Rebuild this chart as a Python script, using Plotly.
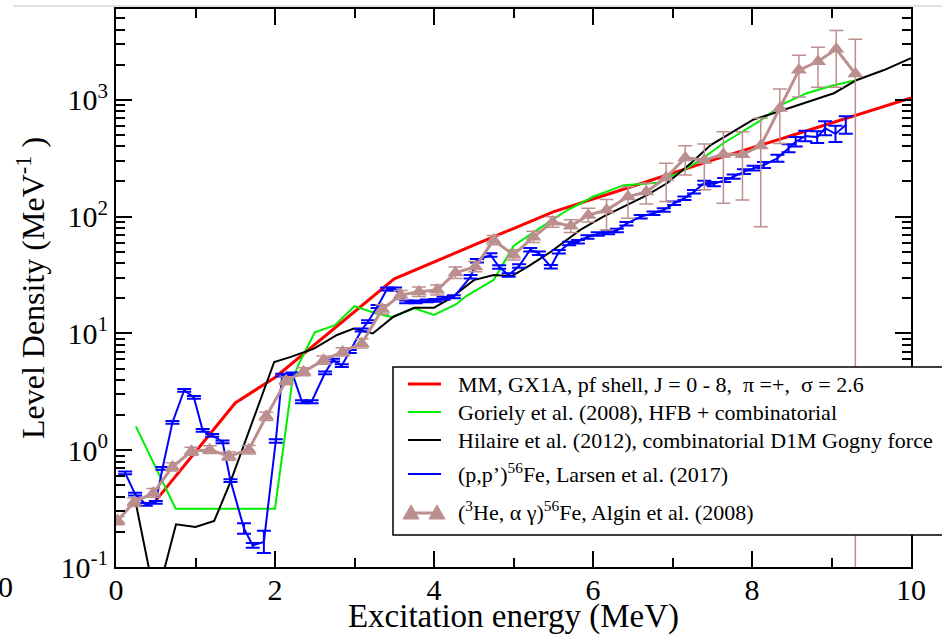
import plotly.graph_objects as go

# ---------------- data ----------------
mm_x = [0.5, 1.5, 2.0, 3.5, 4.5, 5.5, 6.5, 7.5, 8.5, 10.0]
mm_y = [0.37, 2.54, 4.2, 29.3, 57, 110, 182, 305, 495, 1040]

gor_x = [0.25, 0.75, 2.0, 2.22, 2.3, 2.5, 2.75, 3.0, 3.25, 3.47, 3.75, 4.0, 4.28, 4.4, 4.75,
         5.0, 5.32, 5.68, 6.0, 6.39, 6.81, 7.06, 7.35, 7.64, 7.83, 8.1, 8.4, 8.69, 8.99, 9.32]
gor_y = [1.6, 0.316, 0.316, 4.0, 5.5, 10.2, 11.7, 17.1, 15.0, 13.8, 16.4, 14.4, 17.8, 20.8, 28.7,
         56, 79, 114, 148, 186, 195, 234, 305, 425, 510, 660, 930, 1140, 1315, 1480]

hil_x = [0.25, 0.5, 0.755, 1.0, 1.235, 1.44, 1.99, 2.2, 2.49, 2.78, 2.99, 3.23, 3.49, 3.75, 4.0,
         4.21, 4.5, 4.75, 4.98, 5.19, 5.47, 5.84, 6.13, 6.39, 6.68, 6.93, 7.23, 7.48, 7.73, 8.02,
         8.27, 8.7, 9.03, 9.32, 9.66, 10.0]
hil_y = [0.35, 0.05, 0.232, 0.22, 0.248, 0.535, 5.7, 6.3, 7.4, 9.7, 11.0, 10.0, 13.9, 16.6, 16.6,
         20.0, 28.6, 31.6, 31.0, 37.7, 50, 77, 100, 122, 153, 193, 286, 410, 517, 680,
         767, 966, 1140, 1480, 1800, 2270]

lar_x = [0.115, 0.24, 0.375, 0.50, 0.585, 0.71, 0.858, 0.98, 1.09, 1.21, 1.34, 1.44, 1.61, 1.72,
         1.86, 2.01, 2.09, 2.22, 2.34, 2.46, 2.63, 2.73, 2.84, 2.94, 3.09, 3.17, 3.29, 3.41, 3.51,
         3.65, 3.77, 3.91, 4.02, 4.12, 4.25, 4.46, 4.54, 4.71, 4.82, 4.94, 5.07, 5.21, 5.32, 5.47,
         5.57, 5.70, 5.81, 5.93, 6.06, 6.19, 6.30, 6.42, 6.60, 6.76, 6.89, 7.02, 7.15, 7.27, 7.40,
         7.52, 7.65, 7.77, 7.90, 8.02, 8.15, 8.32, 8.46, 8.55, 8.67, 8.82, 8.92, 9.05, 9.18]
lar_y = [0.64, 0.42, 0.344, 0.358, 0.70, 1.73, 3.26, 2.83, 1.48, 1.34, 1.18, 0.55, 0.214, 0.153,
         0.164, 1.2, 4.4, 4.5, 2.6, 2.6, 4.6, 5.9, 5.3, 7.0, 10.7, 12.6, 17.0, 24.0, 24.0,
         18.6, 18.6, 19.0, 19.2, 20.0, 20.6, 30.5, 42, 47, 37, 31.6, 37.7, 52, 48.5, 37.3,
         50, 59, 61, 67, 71, 73, 76, 87, 100, 107, 114, 130, 144, 163, 195,
         190, 206, 220, 243, 260, 277, 316, 385, 438, 490, 480, 572, 511, 610]
lar_err_dex = [0.012, 0.012, 0.012, 0.012, 0.012, 0.012, 0.012, 0.012, 0.012, 0.012, 0.012, 0.012,
               0.045, 0.02, 0.095, 0.015, 0.012, 0.012, 0.012, 0.012, 0.012, 0.012, 0.012, 0.012,
               0.012, 0.012, 0.012, 0.012, 0.012, 0.012, 0.012, 0.012, 0.012, 0.012, 0.012, 0.015,
               0.015, 0.015, 0.015, 0.015, 0.015, 0.015, 0.015, 0.015, 0.015, 0.015, 0.015, 0.015,
               0.015, 0.015, 0.015, 0.015, 0.015, 0.015, 0.015, 0.015, 0.015, 0.015, 0.018, 0.018,
               0.018, 0.018, 0.02, 0.02, 0.025, 0.03, 0.035, 0.04, 0.045, 0.05, 0.06, 0.07, 0.075]

alg_x = [0.02, 0.23, 0.47, 0.71, 0.95, 1.18, 1.42, 1.67, 1.89, 2.14, 2.36, 2.61, 2.85, 3.09,
         3.35, 3.58, 3.81, 4.04, 4.27, 4.52, 4.75, 5.0, 5.25, 5.49, 5.72, 5.94, 6.17, 6.44,
         6.67, 6.92, 7.16, 7.40, 7.64, 7.88, 8.11, 8.35, 8.59, 8.83, 9.06, 9.30]
alg_y = [0.25, 0.36, 0.43, 0.72, 0.98, 1.01, 0.89, 1.01, 1.95, 3.93, 4.69, 5.9, 6.95, 8.2,
         16.1, 21.3, 22.7, 23.5, 33, 37.3, 63, 47, 67, 90, 83, 103, 114, 148,
         163, 216, 320, 304, 343, 340, 405, 847, 1800, 2130, 2720, 1670]
alg_err_plus = [0.02, 0.03, 0.04, 0.06, 0.08, 0.08, 0.08, 0.09, 0.16, 0.3, 0.4, 0.5, 0.6, 0.8,
                1.5, 2.0, 2.3, 2.5, 4, 4, 6, 5, 8, 10, 11, 15, 26, 32,
                30, 70, 85, 115, 190, 193, 290, 393, 615, 690, 1200, 1640]
alg_err_minus = [0.02, 0.03, 0.035, 0.055, 0.075, 0.075, 0.07, 0.08, 0.15, 0.3, 0.35, 0.45, 0.55, 0.7,
                 1.4, 1.8, 2.0, 2.2, 3.5, 3.5, 5.5, 4.5, 7, 9, 10, 13, 37, 51,
                 35, 81, 93, 134, 213, 201, 323, 423, 740, 850, 1440, 1669.97]

y_tickvals = [0.1, 1, 10, 100, 1000]
y_ticktext = ["10<sup>-1</sup>", "10<sup>0</sup>", "10<sup>1</sup>", "10<sup>2</sup>", "10<sup>3</sup>"]

names = [
    "MM, GX1A, pf shell, J = 0 - 8, \u00a0\u03c0 =+, \u00a0\u03c3 = 2.6",
    "Goriely et al. (2008), HFB + combinatorial",
    "Hilaire et al. (2012), combinatorial D1M Gogny force",
    "(p,p\u2019)<sup>56</sup>Fe, Larsen et al. (2017)",
    "(<sup>3</sup>He, \u03b1 \u03b3)<sup>56</sup>Fe, Algin et al. (2008)",
]

# ---------------- styling / layout helpers ----------------
FONT = "Liberation Serif, Times New Roman, serif"
BROWN = "rgb(188,143,143)"
COLORS = ["#ff0000", "#00ee00", "#000000", "#0000ff", BROWN]
WIDTHS = [3, 2, 2, 2, 3]

L, R, T, B = 116, 911, 9, 567          # plot-area edges in pixels
def px(x):
    return (x - L) / (R - L)
def py(y):
    return (B - y) / (B - T)

lar_plus = [y * (10 ** d - 1) for y, d in zip(lar_y, lar_err_dex)]
lar_minus = [y * (1 - 10 ** (-d)) for y, d in zip(lar_y, lar_err_dex)]

fig = go.Figure()
fig.add_trace(go.Scatter(x=mm_x, y=mm_y, mode="lines", name=names[0],
                         line=dict(color=COLORS[0], width=WIDTHS[0])))
fig.add_trace(go.Scatter(x=gor_x, y=gor_y, mode="lines", name=names[1],
                         line=dict(color=COLORS[1], width=WIDTHS[1])))
fig.add_trace(go.Scatter(x=hil_x, y=hil_y, mode="lines", name=names[2],
                         line=dict(color=COLORS[2], width=WIDTHS[2])))
fig.add_trace(go.Scatter(x=lar_x, y=lar_y, mode="lines", name=names[3],
                         line=dict(color=COLORS[3], width=WIDTHS[3]),
                         error_y=dict(type="data", array=lar_plus, arrayminus=lar_minus,
                                      color=COLORS[3], thickness=2, width=7)))
fig.add_trace(go.Scatter(x=alg_x, y=alg_y, mode="lines+markers", name=names[4],
                         line=dict(color=BROWN, width=WIDTHS[4]),
                         marker=dict(symbol="triangle-up", size=14, color=BROWN),
                         error_y=dict(type="data", array=alg_err_plus, arrayminus=alg_err_minus,
                                      color=BROWN, thickness=1.5, width=7)))

axis_common = dict(showgrid=False, zeroline=False, showline=True, linecolor="black",
                   linewidth=2, mirror="ticks", ticks="inside", tickcolor="black",
                   tickwidth=2, ticklen=16,
                   tickfont=dict(family=FONT, size=30, color="black"))

minor_y = [m * 10 ** e for e in range(-1, 4) for m in range(2, 10)]

fig.update_layout(
    width=942, height=635,
    margin=dict(l=L, r=942 - R, t=T, b=635 - B, autoexpand=False),
    paper_bgcolor="white", plot_bgcolor="white",
    font=dict(family=FONT, color="black"),
    showlegend=False,
    xaxis=dict(range=[0, 10], tick0=0, dtick=2, ticklabelstandoff=-5,
               minor=dict(dtick=1, ticks="inside", ticklen=9, tickwidth=2, tickcolor="black"),
               title=dict(text="Excitation energy (MeV)", font=dict(family=FONT, size=33), standoff=5),
               **axis_common),
    yaxis=dict(type="log", range=[-1, 3.778], tickvals=y_tickvals, ticktext=y_ticktext,
               minor=dict(tickvals=minor_y, ticks="inside", ticklen=9, tickwidth=2, tickcolor="black"),
               title=dict(text="Level Density (MeV<sup>-1</sup> )", font=dict(family=FONT, size=32), standoff=6),
               **axis_common),
)

# ---------------- hand-drawn legend box (extends past the right edge as in the original) ----------------
shapes = [dict(type="rect", xref="paper", yref="paper", layer="above",
               x0=px(393), x1=px(990), y0=py(367), y1=py(535),
               line=dict(color="black", width=1.5), fillcolor="white")]
row_y = [384, 412, 440, 474, 513]
text_y = [384, 412, 440, 473, 511]
for i in range(4):
    shapes.append(dict(type="line", xref="paper", yref="paper", layer="above",
                       x0=px(408), x1=px(441), y0=py(row_y[i]), y1=py(row_y[i]),
                       line=dict(color=COLORS[i], width=WIDTHS[i])))
shapes.append(dict(type="line", xref="paper", yref="paper", layer="above",
                   x0=px(411), x1=px(437), y0=py(row_y[4]), y1=py(row_y[4]),
                   line=dict(color=BROWN, width=3)))
for cx in (411, 437):
    cy = row_y[4]
    shapes.append(dict(type="path", xref="paper", yref="paper", layer="above",
                       path=f"M {px(cx-8)},{py(cy+6)} L {px(cx+8)},{py(cy+6)} L {px(cx)},{py(cy-8)} Z",
                       fillcolor=BROWN, line=dict(color=BROWN, width=1)))
shapes.append(dict(type="line", xref="paper", yref="paper", x0=px(13), x1=px(942),
                   y0=py(6), y1=py(6), line=dict(color="#e2e2e2", width=2)))
fig.update_layout(shapes=shapes)

for i, name in enumerate(names):
    fig.add_annotation(text=name, xref="paper", yref="paper", x=px(456), y=py(text_y[i]),
                       xanchor="left", yanchor="middle", showarrow=False,
                       font=dict(family=FONT, size=22, color="black"))

fig.add_annotation(text="0", xref="paper", yref="paper", x=px(5), y=py(587), showarrow=False,
                   font=dict(family=FONT, size=30, color="black"), xanchor="center", yanchor="middle")

fig.write_html("out.html")
